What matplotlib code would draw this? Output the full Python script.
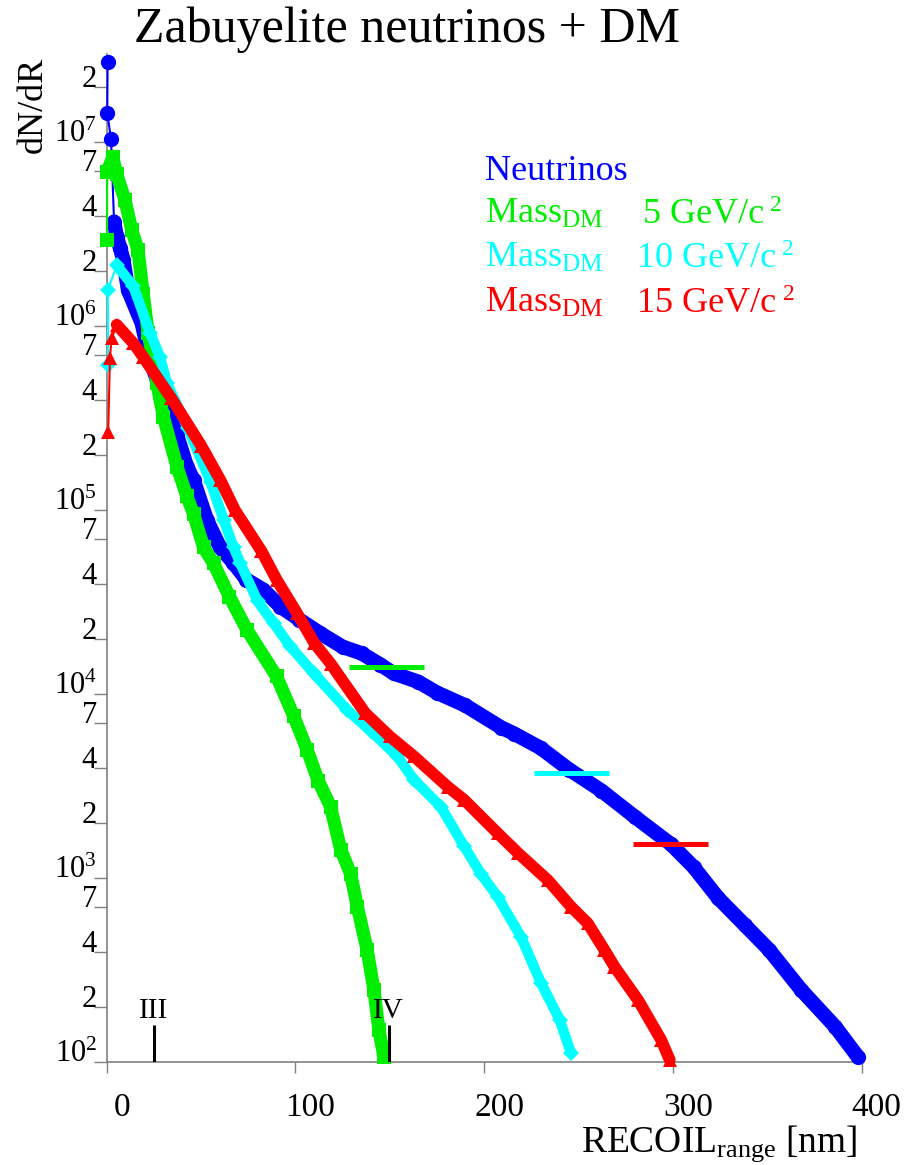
import matplotlib
matplotlib.use('Agg')
import matplotlib.pyplot as plt
import matplotlib.transforms as mtransforms

plt.rcParams['font.family'] = 'Liberation Serif'
plt.rcParams['mathtext.fontset'] = 'custom'
plt.rcParams['mathtext.rm'] = 'Liberation Serif'
plt.rcParams['mathtext.it'] = 'Liberation Serif:italic'

# --- datos (x en nm, y = dN/dR) ---
nu_x = [0.5, 0.3, 2.3, 3.9, 5.3, 7.1, 8.8, 11.4, 18.6, 23, 32, 37, 42.5, 46, 53, 60, 67,
        74, 83, 92, 102, 113, 125, 135, 145, 152, 165, 175, 190, 209, 216, 230, 245,
        262, 280, 299, 311, 324, 338, 351, 368, 386, 398]
nu_y = [2.74e7, 1.44e7, 1.04e7, 3.7e6, 3.07e6, 2.67e6, 2.29e6, 1.57e6, 1.04e6, 6.6e5,
        3.5e5, 2.6e5, 1.73e5, 1.46e5, 8.9e4, 6.3e4, 5.2e4, 4.2e4, 3.7e4, 3.0e4, 2.55e4,
        2.15e4, 1.81e4, 1.67e4, 1.45e4, 1.3e4, 1.17e4, 1.02e4, 8.7e3, 6.6e3, 6.1e3,
        5.1e3, 3.9e3, 3.0e3, 2.15e3, 1.53e3, 1.15e3, 780, 558, 408, 247, 156, 107]

dm5_x = [0.2, 0.2, 3.2, 5.3, 9.7, 13.3, 16.6, 19.3, 22, 26.6, 30, 37.2, 42.5, 46, 51.3,
         56.6, 65, 74.3, 90, 99.1, 106.2, 112, 118.6, 124, 129.2, 132.8, 138, 141.6,
         144.2, 146.9]
dm5_y = [2.94e6, 6.9e6, 8.3e6, 6.7e6, 4.85e6, 3.33e6, 2.6e6, 1.5e6, 9.2e5, 4.9e5,
         3.23e5, 1.73e5, 1.19e5, 9.6e4, 6.3e4, 5.15e4, 3.4e4, 2.24e4, 1.25e4, 7.6e3,
         5.0e3, 3.4e3, 2.45e3, 1.43e3, 1.06e3, 701, 408, 247, 150, 107]

dm10_x = [0.8, 0.6, 5.3, 14.1, 23, 28.3, 31.9, 43, 55, 61.9, 67.2, 70.8, 80, 88.5, 97.3,
          109.7, 127.5, 140, 154, 162.8, 177, 189.4, 198.2, 207.1, 219.5, 230.1, 240, 246]
dm10_y = [6.2e5, 1.57e6, 2.15e6, 1.65e6, 9.2e5, 6.8e5, 4.9e5, 2.8e5, 1.43e5, 8.9e4,
          6.3e4, 5.15e4, 3.2e4, 2.43e4, 1.82e4, 1.3e4, 8.2e3, 6.3e3, 4.6e3, 3.43e3,
          2.45e3, 1.49e3, 1.06e3, 794, 480, 270, 170, 112]

dm15_x = [0.8, 1.7, 2.6, 5.3, 14.1, 19.4, 34, 50, 60.2, 68, 82, 90, 100.9, 110, 118.6,
          137, 150, 162.8, 180.6, 189.4, 207.1, 218, 233.7, 246, 254.9, 263.7, 269,
          281.5, 293.8, 298.3]
dm15_y = [2.67e5, 6.7e5, 8.6e5, 1.02e6, 8.1e5, 6.8e5, 4.1e5, 2.25e5, 1.46e5, 1.0e5,
          6.0e4, 4.2e4, 2.75e4, 1.9e4, 1.47e4, 7.9e3, 5.9e3, 4.6e3, 3.15e3, 2.67e3,
          1.76e3, 1.37e3, 978, 701, 569, 408, 331, 218, 132, 103]

# barras horizontales (x inicio, x fin, y)
barra_x0 = [128.2, 226.4, 279.0]
barra_x1 = [168.0, 266.3, 318.8]
barra_y = [1.41e4, 3.72e3, 1.53e3]

# marcas III y IV
marca_x = [24.8, 149.4]
marca_txt = ['III', 'IV']

ticks_x = [0, 100, 200, 300, 400]
ticks_y = [1e2, 1e3, 1e4, 1e5, 1e6, 1e7]
ticks_y_lbl = [r'$10^{%d}$' % k for k in range(2, 8)]
minor_y = [m * 10 ** k for k in range(2, 7) for m in (2, 4, 7)] + [2e7]
minor_y_lbl = [str(m) for k in range(2, 7) for m in (2, 4, 7)] + ['2']

W, H = 910, 1165
fig = plt.figure(figsize=(W / 100, H / 100), dpi=100)
ax = fig.add_axes([106.7 / W, 1 - 1062.3 / H, (861.7 - 106.7) / W, (1062.3 - 54) / H])
ax.set_yscale('log')
ax.set_xlim(0, 400)
ax.set_ylim(100, 3.02e7)

# curvas: (x, y, color, marcador, tam, ancho banda, inicio banda)
series = [
    (nu_x, nu_y, '#0000ff', 'o', 11, 10.5, 3),
    (dm5_x, dm5_y, '#00ee00', 's', 9.5, 9.5, 1),
    (dm10_x, dm10_y, '#00ffff', 'D', 8, 7.5, 2),
    (dm15_x, dm15_y, '#ff0000', '^', 9.5, 8.5, 3),
]
for z, (xs, ys, col, mk, ms, lw, ini) in enumerate(series):
    ax.plot(xs, ys, color=col, lw=1.5, marker=mk, ms=ms, mew=0,
            clip_on=False, zorder=3 + z)
    ax.plot(xs[ini:], ys[ini:], color=col, lw=lw, solid_capstyle='round',
            solid_joinstyle='round', clip_on=False, zorder=3 + z)

for x0, x1, y, col in zip(barra_x0, barra_x1, barra_y, ['#00ee00', '#00ffff', '#ff0000']):
    ax.hlines(y, x0, x1, color=col, lw=3.6, zorder=10)

for mx, txt in zip(marca_x, marca_txt):
    ax.vlines(mx, 100, 160, color='black', lw=2.2, zorder=11)
    ax.text(mx, 174, txt, ha='center', va='baseline', fontsize=21, zorder=11)

# ejes
gris = '#808080'
for s in ['top', 'right']:
    ax.spines[s].set_visible(False)
for s in ['left', 'bottom']:
    ax.spines[s].set_color(gris)
    ax.spines[s].set_linewidth(1.2)

ax.set_xticks(ticks_x)
ax.set_xticklabels([str(t) for t in ticks_x])
ax.set_yticks(ticks_y)
ax.set_yticklabels(ticks_y_lbl)
ax.set_yticks(minor_y, labels=minor_y_lbl, minor=True)
ax.tick_params(axis='x', length=8, width=1, color=gris, pad=13.5, labelsize=24)
ax.tick_params(axis='y', which='both', length=9.4, width=1, color=gris, pad=-2.4,
               labelsize=22)
for lab in ax.get_yticklabels(which='both'):
    lab.set_verticalalignment('baseline')
desplaza = mtransforms.ScaledTranslation(15 / 100, 0, fig.dpi_scale_trans)
for lab in ax.get_xticklabels():
    lab.set_transform(lab.get_transform() + desplaza)


def ftext(px, py, s, **kw):
    fig.text(px / W, 1 - py / H, s, **kw)


ftext(406.5, 42, 'Zabuyelite neutrinos + DM', ha='center', va='baseline', fontsize=36)
ftext(33, 105, 'dN/dR', rotation=90, ha='center', va='center', fontsize=26)
ftext(857, 1152, r'RECOIL$_{\mathrm{range}}$ [nm]', ha='right', va='baseline', fontsize=27)

# leyenda
ftext(485, 180, 'Neutrinos', color='#0000ff', fontsize=26, va='baseline')
leyenda = [('5 GeV/c', '#00ee00', 223, 643, 770),
           ('10 GeV/c', '#00ffff', 267, 637, 782),
           ('15 GeV/c', '#ff0000', 312, 637, 783)]
for txt, col, yb, xt, xs2 in leyenda:
    ftext(485, yb, r'Mass$_{\mathrm{DM}}$', color=col, fontsize=26, va='baseline')
    ftext(xt, yb, txt, color=col, fontsize=26, va='baseline')
    ftext(xs2, yb - 12, '2', color=col, fontsize=17, va='baseline')

plt.savefig('out.png', dpi=100)
